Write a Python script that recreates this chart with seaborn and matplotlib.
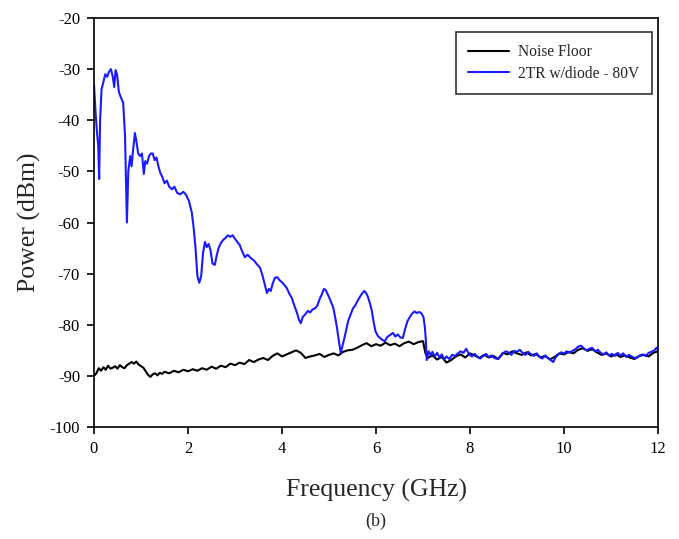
import matplotlib
matplotlib.use("Agg")
import matplotlib.pyplot as plt
import seaborn as sns
import pandas as pd

# ---------------- data ----------------
series_names = ["Noise Floor", "2TR w/diode - 80V"]

diode_freq = [
    0.00, 0.03, 0.06, 0.09, 0.11, 0.13, 0.16, 0.20, 0.24, 0.28, 0.32, 0.36, 0.40, 0.43, 0.46, 0.49,
    0.53, 0.57, 0.62, 0.66, 0.70, 0.73, 0.77, 0.80, 0.83, 0.87, 0.90, 0.94, 0.98, 1.02, 1.06, 1.09,
    1.13, 1.17, 1.21, 1.25, 1.29, 1.33, 1.37, 1.41, 1.45, 1.50, 1.55, 1.60, 1.66, 1.71, 1.77, 1.83,
    1.90, 1.96, 2.02, 2.08, 2.12, 2.16, 2.20, 2.24, 2.28, 2.32, 2.36, 2.40, 2.44, 2.48, 2.52, 2.57,
    2.61, 2.65, 2.70, 2.75, 2.80, 2.85, 2.90, 2.95, 3.00, 3.05, 3.10, 3.15, 3.21, 3.27, 3.33, 3.40,
    3.47, 3.53, 3.58, 3.63, 3.68, 3.72, 3.76, 3.80, 3.85, 3.90, 3.95, 4.00, 4.05, 4.10, 4.16, 4.21,
    4.26, 4.32, 4.36, 4.40, 4.44, 4.49, 4.55, 4.60, 4.65, 4.70, 4.75, 4.80, 4.85, 4.89, 4.93, 4.97,
    5.01, 5.05, 5.09, 5.13, 5.17, 5.21, 5.25, 5.29, 5.33, 5.37, 5.41, 5.46, 5.51, 5.56, 5.61, 5.66,
    5.71, 5.75, 5.79, 5.83, 5.87, 5.91, 5.95, 5.99, 6.04, 6.09, 6.14, 6.19, 6.24, 6.30, 6.36, 6.41,
    6.46, 6.52, 6.57, 6.62, 6.67, 6.72, 6.77, 6.82, 6.87, 6.92, 6.97, 7.01, 7.04, 7.06, 7.08, 7.12,
    7.16, 7.20, 7.25, 7.30, 7.35, 7.40, 7.45, 7.50, 7.56, 7.62, 7.68, 7.74, 7.80, 7.86, 7.92, 7.98,
    8.04, 8.10, 8.16, 8.22, 8.28, 8.34, 8.40, 8.46, 8.52, 8.58, 8.64, 8.70, 8.76, 8.82, 8.88, 8.94,
    9.00, 9.06, 9.12, 9.18, 9.24, 9.30, 9.36, 9.42, 9.48, 9.54, 9.60, 9.66, 9.72, 9.77, 9.82, 9.88,
    9.94, 10.00, 10.06, 10.12, 10.18, 10.24, 10.30, 10.36, 10.42, 10.48, 10.54, 10.60, 10.66, 10.72,
    10.78, 10.84, 10.90, 10.96, 11.02, 11.08, 11.14, 11.20, 11.26, 11.32, 11.38, 11.44, 11.50, 11.56,
    11.62, 11.68, 11.74, 11.80, 11.86, 11.92, 11.97, 12.00,
]
diode_dbm = [
    -33.0, -38.0, -42.0, -45.0, -51.5, -40.0, -34.0, -32.5, -31.0, -31.5, -30.5, -30.0, -31.5, -33.5, -30.2, -31.0,
    -34.5, -35.5, -36.5, -43.0, -60.0, -50.0, -47.0, -49.0, -46.0, -42.5, -44.0, -46.5, -47.0, -46.5, -50.5, -48.0,
    -48.5, -47.0, -46.5, -46.5, -47.8, -47.3, -49.0, -50.3, -51.0, -52.3, -51.8, -53.0, -53.5, -53.0, -54.2, -54.5,
    -54.0, -54.6, -55.8, -58.0, -61.0, -65.0, -70.5, -71.8, -70.5, -66.0, -63.8, -64.8, -64.2, -65.5, -68.0, -68.3,
    -66.5, -65.0, -64.0, -63.4, -63.0, -62.5, -62.8, -62.5, -63.2, -63.8, -64.4, -65.6, -66.8, -66.3, -66.9, -67.4,
    -68.2, -68.8, -70.2, -72.0, -73.8, -73.0, -73.4, -72.0, -70.8, -70.7, -71.3, -71.7, -72.2, -72.8, -74.0, -74.8,
    -76.2, -77.7, -79.0, -79.7, -78.5, -78.0, -77.3, -77.6, -77.0, -76.8, -76.3, -75.0, -74.0, -73.0, -73.2, -74.0,
    -74.8, -75.7, -76.6, -78.5, -80.6, -83.2, -85.5, -84.0, -82.5, -80.8, -79.2, -78.0, -76.8, -76.2, -75.3, -74.5,
    -73.8, -73.4, -73.8, -74.6, -75.8, -77.2, -79.5, -81.3, -82.2, -82.6, -83.0, -83.2, -82.4, -82.0, -81.6, -82.3,
    -81.9, -82.5, -82.6, -80.8, -79.3, -78.5, -77.8, -77.4, -77.7, -77.5, -77.8, -78.5, -80.5, -83.0, -86.9, -85.2,
    -85.9, -85.3, -86.2, -85.5, -86.4, -85.8, -86.8, -86.2, -86.7, -85.9, -86.1, -85.6, -85.2, -85.5, -84.7, -85.8,
    -86.2, -85.7, -86.3, -86.6, -86.1, -85.7, -86.3, -86.0, -86.5, -86.7, -86.3, -85.6, -85.2, -85.4, -85.9, -85.1,
    -85.3, -84.9, -85.5, -85.9, -85.3, -85.8, -86.1, -85.6, -86.3, -86.6, -86.0, -86.5, -86.9, -87.3, -86.4, -85.8,
    -85.4, -85.6, -85.2, -85.5, -85.1, -84.8, -84.3, -84.1, -84.6, -85.0, -84.7, -84.5, -85.2, -84.9,
    -85.5, -85.8, -85.4, -86.0, -85.7, -86.1, -85.5, -86.0, -85.6, -86.3, -85.9, -86.2, -86.5, -86.4,
    -86.0, -85.8, -86.1, -85.5, -85.3, -85.0, -84.5, -85.0,
]

noise_freq = [
    0.00, 0.05, 0.10, 0.15, 0.20, 0.25, 0.30, 0.35, 0.40, 0.45, 0.50, 0.55, 0.60, 0.65, 0.70, 0.75,
    0.80, 0.85, 0.90, 0.95, 1.00, 1.05, 1.10, 1.15, 1.20, 1.25, 1.30, 1.35, 1.40, 1.45, 1.50, 1.60,
    1.70, 1.80, 1.90, 2.00, 2.10, 2.20, 2.30, 2.40, 2.50, 2.60, 2.70, 2.80, 2.90, 3.00, 3.10, 3.20,
    3.30, 3.40, 3.50, 3.60, 3.70, 3.80, 3.90, 4.00, 4.10, 4.20, 4.30, 4.40, 4.50, 4.60, 4.70, 4.80,
    4.90, 5.00, 5.10, 5.20, 5.30, 5.40, 5.50, 5.60, 5.70, 5.80, 5.90, 6.00, 6.10, 6.20, 6.30, 6.40,
    6.50, 6.60, 6.70, 6.80, 6.90, 7.00, 7.05, 7.10, 7.20, 7.30, 7.40, 7.50, 7.60, 7.70, 7.80, 7.90,
    8.00, 8.10, 8.20, 8.30, 8.40, 8.50, 8.60, 8.70, 8.80, 8.90, 9.00, 9.10, 9.20, 9.30, 9.40, 9.50,
    9.60, 9.70, 9.80, 9.90, 10.00, 10.10, 10.20, 10.30, 10.40, 10.50, 10.60, 10.70, 10.80, 10.90,
    11.00, 11.10, 11.20, 11.30, 11.40, 11.50, 11.60, 11.70, 11.80, 11.90, 12.00,
]
noise_dbm = [
    -90.0, -89.5, -88.5, -89.0, -88.3, -88.8, -88.0, -88.6, -88.4, -88.1, -88.6, -87.9, -88.3, -88.5, -87.9, -87.6,
    -87.3, -87.6, -87.2, -87.8, -88.1, -88.4, -89.1, -89.8, -90.2, -89.7, -89.5, -89.9, -89.4, -89.6, -89.2, -89.5,
    -89.0, -89.3, -88.8, -89.1, -88.7, -89.0, -88.5, -88.8, -88.2, -88.6, -88.0, -88.3, -87.6, -87.9, -87.4, -87.7,
    -86.9, -87.3, -86.8, -86.5, -86.9, -86.1, -85.6, -86.2, -85.8, -85.4, -85.0, -85.5, -86.5, -86.2, -86.0, -85.7,
    -86.3, -85.9, -85.6, -86.0, -85.3, -85.0, -84.9, -84.5, -84.0, -83.6, -84.2, -83.8, -84.1, -83.5, -84.0, -83.7,
    -84.2, -83.6, -83.3, -83.8, -83.4, -83.2, -85.5, -86.5, -86.0, -86.8, -86.3, -87.4, -86.9, -86.2, -85.8, -86.4,
    -85.6, -86.0, -86.5, -85.9, -86.4, -86.1, -86.7, -85.5, -85.8, -85.2, -85.6, -85.9, -85.4, -86.0, -85.7, -86.4,
    -86.1, -86.8, -86.3, -85.6, -85.8, -85.3, -85.6, -84.9, -84.6, -85.1, -84.8, -85.4, -85.9, -85.6,
    -86.2, -85.8, -86.3, -86.0, -86.4, -86.7, -86.1, -85.9, -86.2, -85.5, -85.2,
]

x_ticks = [0, 2, 4, 6, 8, 10, 12]
y_ticks = [-100, -90, -80, -70, -60, -50, -40, -30, -20]

# ---------------- build long table ----------------
df = pd.concat([
    pd.DataFrame({"Frequency": noise_freq, "Power": noise_dbm, "Series": series_names[0]}),
    pd.DataFrame({"Frequency": diode_freq, "Power": diode_dbm, "Series": series_names[1]}),
], ignore_index=True)

sns.set_style("ticks")
plt.rcParams["font.family"] = ["Liberation Serif", "DejaVu Serif"]

fig = plt.figure(figsize=(6.79, 5.39), dpi=100)
ax = fig.add_axes([94 / 679, 1 - 427 / 539, (658 - 94) / 679, (427 - 18) / 539])

sns.lineplot(data=df, x="Frequency", y="Power", hue="Series", sort=False,
             palette={series_names[0]: "#000000", series_names[1]: "#1a1aff"},
             linewidth=1.5, ax=ax, estimator=None)

ax.set_xlim(0, 12)
ax.set_ylim(-100, -20)
ax.set_xticks(x_ticks)
ax.set_yticks(y_ticks)
ax.set_xticklabels([str(t) for t in x_ticks], fontsize=12)
ax.set_yticklabels([str(t) for t in y_ticks], fontsize=12)
ax.tick_params(direction="out", length=5, width=1.2, colors="black", pad=5)
for s in ax.spines.values():
    s.set_visible(True)
    s.set_color("black")
    s.set_linewidth(1.2)

ax.set_xlabel("Frequency (GHz)", fontsize=18.5, labelpad=16)
ax.set_ylabel("Power (dBm)", fontsize=18.5, labelpad=6)

leg = ax.legend(loc="upper right", bbox_to_anchor=(0.989, 0.966), fontsize=11.2,
                frameon=True, fancybox=False, edgecolor="black", handlelength=2.6,
                borderpad=0.8, labelspacing=0.35, handletextpad=0.6, borderaxespad=0)
leg.get_frame().set_linewidth(1.2)
for line in leg.get_lines():
    line.set_linewidth(1.5)

fig.text(376 / 679, 1 - 521 / 539, "(b)", ha="center", va="center", fontsize=13)

fig.savefig("out.png", dpi=100, facecolor="white")
